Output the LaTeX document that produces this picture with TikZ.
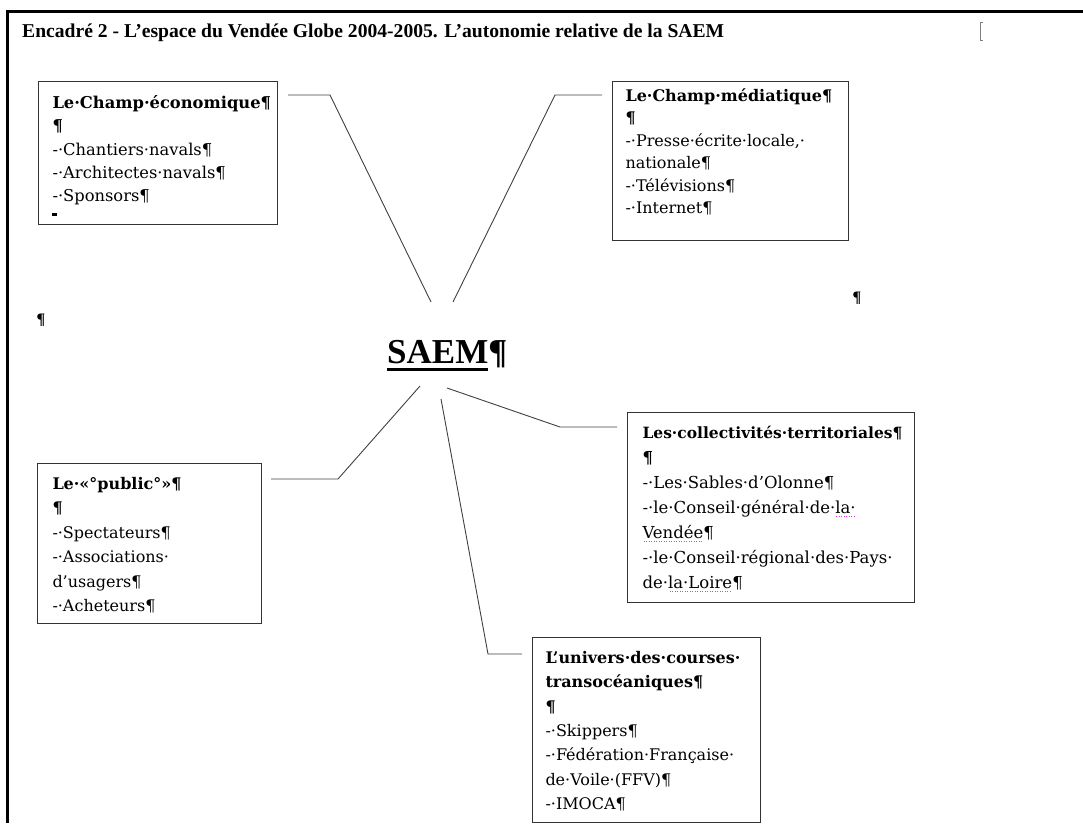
\documentclass[tikz,border=0pt]{standalone}
\usepackage{fontspec}
\setmainfont{Liberation Serif}
\newfontfamily\boxfont{DejaVu Serif}
\usepackage{xcolor}
\usetikzlibrary{positioning}
\definecolor{spellpink}{RGB}{235,50,235}
% dotted spell-check mark under a word
\newcommand{\spellerr}[1]{\leavevmode\setbox0\hbox{#1}%
  \rlap{\raisebox{-3pt}{\color{spellpink}\hbox to \wd0{\cleaders\hbox to 2.5pt{\hss\rule{1pt}{1pt}\hss}\hfill}}}\box0}
% thick underline for the centre word
\newcommand{\saemul}[1]{\setbox0\hbox{#1}\rlap{\rule[-7.5pt]{\wd0}{2.5pt}}\box0}

\begin{document}
\begin{tikzpicture}[
      x=1pt, y=-1pt,
      box/.style={draw=black!80, line width=1pt, anchor=north west,
                  inner xsep=14pt, inner ysep=0pt, align=left},
      nobreak/.style={execute at begin node={\hyphenpenalty=10000 \exhyphenpenalty=10000 }},
      link/.style={draw=black!75, line width=0.9pt},
      frame/.style={line width=2.7pt, line join=miter}
    ]
    \useasboundingbox (0,0) rectangle (1083,823);

    % --- Frame and heading ---
    \draw[frame] (7.3,823) -- (7.3,11.5) -- (1083,11.5);
    \draw[gray, line width=0.8pt] (983,22) -- (980.8,22) -- (980.8,40) -- (983,40);
    \node[font=\bfseries\fontsize{19.6}{22}\selectfont, inner sep=0pt, anchor=base west]
      (title) at (22,37)
      {Encadré 2 - L’espace du Vendée Globe 2004-2005. L’autonomie relative de la SAEM};

    % --- Centre ---
    \node[font=\bfseries\fontsize{35}{40}\selectfont, inner sep=0pt, anchor=base west]
      (saem) at (387,363) {\saemul{SAEM}¶};
    \node[font=\bfseries\fontsize{16}{20}\selectfont, inner sep=0pt] (parL) at (41,320) {¶};
    \node[font=\bfseries\fontsize{16}{20}\selectfont, inner sep=0pt] (parR) at (857,298) {¶};

    % --- Fields ---
    \node[box, nobreak, text width=211pt, text height=27pt, text depth=116pt,
          font=\boxfont\fontsize{16.3}{23.3}\selectfont] (eco) at (38,81)
      {\textbf{Le·Champ·économique¶}\\ \textbf{¶}\\ -·Chantiers·navals¶\\
       -·Architectes·navals¶\\ -·Sponsors¶};
    \fill (52,212.5) rectangle (57,215.5);

    \node[box, nobreak, inner xsep=13pt, text width=210pt, text height=20pt, text depth=139pt,
          font=\boxfont\fontsize{16}{22.4}\selectfont] (med) at (612,81)
      {\textbf{Le·Champ·médiatique¶}\\ \textbf{¶}\\ -·Presse·écrite·locale,·\\
       nationale¶\\ -·Télévisions¶\\ -·Internet¶};

    \node[box, nobreak, inner xsep=15pt, text width=257pt, text height=26pt, text depth=164pt,
          font=\boxfont\fontsize{16.5}{25}\selectfont] (coll) at (627,412)
      {\textbf{\fontsize{15.5}{25}\selectfont Les·collectivités·territoriales¶}\\ \textbf{¶}\\
       -·Les·Sables·d’Olonne¶\\ -·le·Conseil·général·de·\spellerr{la·}\\
       \spellerr{Vendée}¶\\ -·le·Conseil·régional·des·Pays·\\ de·\spellerr{la·Loire}¶};

    \node[box, nobreak, inner xsep=15pt, text width=194pt, text height=26pt, text depth=134pt,
          font=\boxfont\fontsize{16}{24.4}\selectfont] (pub) at (37,463)
      {\textbf{Le·«°public°»¶}\\ \textbf{¶}\\ -·Spectateurs¶\\ -·Associations·\\
       d’usagers¶\\ -·Acheteurs¶};

    \node[box, nobreak, inner xsep=13pt, text width=202pt, text height=26pt, text depth=159pt,
          font=\boxfont\fontsize{16}{24.3}\selectfont] (univ) at (532,637)
      {\textbf{L’univers·des·courses·}\\ \textbf{transocéaniques¶}\\ \textbf{¶}\\
       -·Skippers¶\\ -·Fédération·Française·\\ de·Voile·(FFV)¶\\ -·IMOCA¶};

    % --- Connectors ---
    \coordinate (eco-a) at (288,95);
    \coordinate (eco-b) at (330,95);
    \coordinate (eco-c) at (431,302);
    \coordinate (med-a) at (453,302);
    \coordinate (med-b) at (555,95);
    \coordinate (med-c) at (602,95);
    \coordinate (coll-a) at (447,388);
    \coordinate (coll-b) at (560,427);
    \coordinate (coll-c) at (617,427);
    \coordinate (pub-a) at (420,386);
    \coordinate (pub-b) at (338,479);
    \coordinate (pub-c) at (271,479);
    \coordinate (univ-a) at (441,399);
    \coordinate (univ-b) at (488,654);
    \coordinate (univ-c) at (522,654);

    \draw[link] (eco-a) -- (eco-b) -- (eco-c);
    \draw[link] (med-a) -- (med-b) -- (med-c);
    \draw[link] (coll-a) -- (coll-b) -- (coll-c);
    \draw[link] (pub-a) -- (pub-b) -- (pub-c);
    \draw[link] (univ-a) -- (univ-b) -- (univ-c);

  \end{tikzpicture}
\end{document}
